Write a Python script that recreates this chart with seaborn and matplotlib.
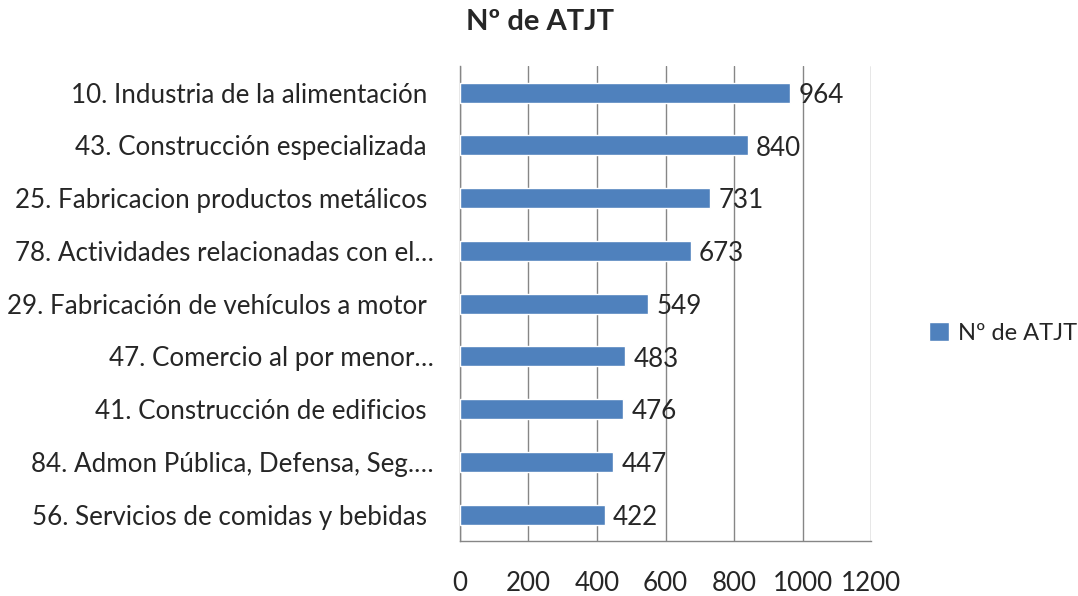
import matplotlib
matplotlib.use("Agg")
import matplotlib.pyplot as plt
import seaborn as sns
import pandas as pd
import numpy as np
from matplotlib.ticker import FixedLocator

categories = [
    "10. Industria de la alimentación ",
    "43. Construcción especializada ",
    "25. Fabricacion productos metálicos ",
    "78. Actividades relacionadas con el…",
    "29. Fabricación de vehículos a motor ",
    "47. Comercio al por menor…",
    "41. Construcción de edificios ",
    "84. Admon Pública, Defensa, Seg.…",
    "56. Servicios de comidas y bebidas ",
]
values = [964, 840, 731, 673, 549, 483, 476, 447, 422]
x_ticks = [0, 200, 400, 600, 800, 1000, 1200]
series_name = "Nº de ATJT"

df = pd.DataFrame({"cat": categories, "val": values})

sns.set_style("white")
plt.rcParams["font.family"] = ["Lato", "DejaVu Sans"]
fs = 18.7

fig = plt.figure(figsize=(10.78, 5.96), dpi=100)
ax = fig.add_axes([0.4267, 0.0923, 0.808 - 0.4267, 0.889 - 0.0923])

sns.barplot(data=df, x="val", y="cat", orient="h", color="#4F81BD",
            width=0.38, saturation=1, ax=ax, label=series_name, zorder=3)

for i, v in enumerate(values):
    ax.annotate(str(v), (v, i), xytext=(6, -2), textcoords="offset points",
                va="center", ha="left", fontsize=fs, zorder=4)

ax.set_xlim(0, 1200)
ax.set_ylim(len(categories) - 0.5, -0.5)
ax.set_xticks(x_ticks)
ax.set_xticklabels([str(t) for t in x_ticks], fontsize=fs)
ax.tick_params(axis="x", length=6.5, color="#868686", pad=15)
ax.xaxis.grid(True, color="#868686", linewidth=1, zorder=0)
ax.yaxis.grid(False)

ax.set_yticks(range(len(categories)))
ax.set_yticklabels(categories, fontsize=fs)
ax.tick_params(axis="y", which="major", length=0, pad=19)
ax.yaxis.set_minor_locator(FixedLocator(np.arange(-0.5, len(categories), 1)))
ax.tick_params(axis="y", which="minor", length=6.5, color="#868686")

for s in ["top", "right"]:
    ax.spines[s].set_visible(False)
for s in ["left", "bottom"]:
    ax.spines[s].set_color("#868686")
    ax.spines[s].set_linewidth(1)

ax.set_xlabel("")
ax.set_ylabel("")

fig.suptitle(series_name, fontsize=21, fontweight="bold", x=0.501, y=0.985)

leg = ax.legend(loc="center left", bbox_to_anchor=(1.1, 0.438), frameon=False,
                fontsize=17, handlelength=0.85, handleheight=0.85, handletextpad=0.4,
                borderpad=0.2)

fig.savefig("out.png", dpi=100)
